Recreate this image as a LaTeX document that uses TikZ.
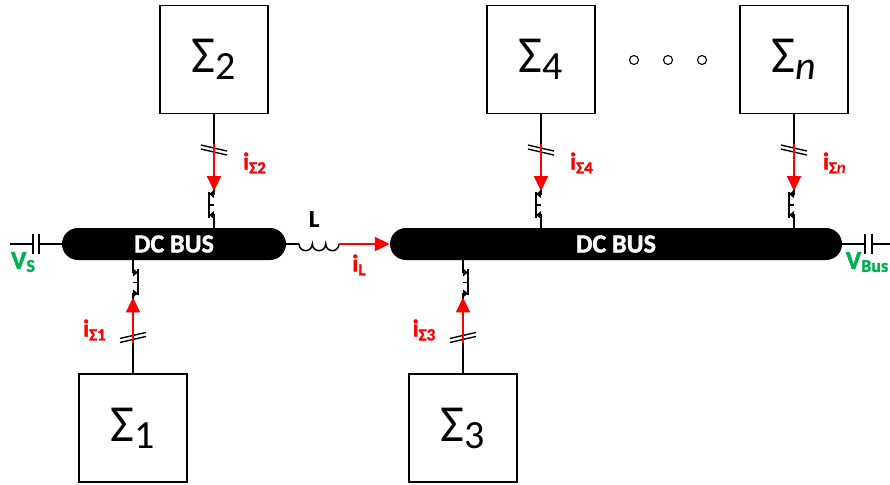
\documentclass[tikz,border=0pt]{standalone}
\usepackage{fontspec}
\setmainfont[BoldFeatures={FakeBold=1.6}]{Carlito}
\usetikzlibrary{arrows.meta,calc}
\definecolor{busgreen}{RGB}{0,176,80}
\newcommand{\fs}[1]{\fontsize{#1}{#1}\selectfont}
\newcommand{\bigsig}[1]{\raisebox{-5pt}{\fs{52}Σ\raisebox{-7pt}{\fs{40}#1}}}
\newcommand{\cur}[2]{{\fs{24}\bfseries #1\raisebox{-4pt}{\fs{17}#2}}}
\tikzset{
  x=1pt,y=-1pt,
  block/.style={draw=black,line width=1.1pt,fill=white,minimum width=108pt,minimum height=108pt,inner sep=0pt},
  bus/.style={fill=black,rounded corners=16pt,minimum height=32pt,inner sep=0pt,text=white,font=\fs{26}\bfseries},
  wire/.style={draw=black,line width=1.5pt},
  redarrow/.style={draw=red,line width=2pt,-{Triangle[length=15pt,width=14pt,fill=red]}},
  plate/.style={draw=black,line width=2pt},
  curlabel/.style={text=red,inner sep=0pt},
  vlabel/.style={text=busgreen,inner sep=0pt},
  dotc/.style={circle,draw=black,line width=1.1pt,minimum size=9pt,inner sep=0pt},
  switchsym/.pic={
    \draw[line width=1.5pt] (0,-14) -- (0,-11) -- (-5,-11);
    \draw[line width=2pt] (-5,-13) -- (-5,13);
    \draw[line width=1.5pt] (-5,0) -- (0,0);
    \draw[line width=1.5pt] (-5,10) -- (0,10) -- (0,14);
    \fill (-5,-11) -- (0,-15) -- (0,-7) -- cycle;
    \fill (-5,10) -- (0,6) -- (0,14) -- cycle;
  },
  ticks/.pic={
    \draw[line width=1.4pt] (-13,-5) -- (13,1);
    \draw[line width=1.4pt] (-13,-1) -- (13,5);
  }
}
\begin{document}
\begin{tikzpicture}
\useasboundingbox (0,0) rectangle (890,484);
% blocks
\node[block] (s2) at (214,59.5) {\bigsig{2}};
\node[block] (s4) at (541,59.5) {\bigsig{4}};
\node[block] (sn) at (794,59.5) {\bigsig{\itshape n}};
\node[block] (s1) at (133,428) {\bigsig{1}};
\node[block] (s3) at (463,428) {\bigsig{3}};
% buses
\node[bus,minimum width=224pt] (busa) at (174,244) {DC BUS};
\node[bus,minimum width=452pt] (busb) at (616,244) {DC BUS};
% named points
\coordinate (vsl) at (10,244);
\coordinate (vsa) at (33,244);
\coordinate (vsb) at (39,244);
\coordinate (vbl) at (890,244);
\coordinate (vba) at (865,244);
\coordinate (vbb) at (872,244);
\coordinate (la) at (299,244);
\coordinate (lb) at (339,244);
% vertical wires
\foreach \b/\g in {s2/busa,s4/busb,sn/busb}{
  \draw[wire] (\b.south) -- ($(\b.south)+(0,78)$);
  \draw[wire] ($(\b.south)+(0,102)$) -- (\b.south |- \g.north);
  \path ($(\b.south)+(0,91)$) pic {switchsym};
  \path ($(\b.south)+(0,36)$) pic {ticks};
  \draw[redarrow] ($(\b.south)+(0,30)$) -- ($(\b.south)+(0,77)$);
}
\foreach \b/\g in {s1/busa,s3/busb}{
  \draw[wire] (\b.north) -- ($(\b.north)+(0,-78)$);
  \draw[wire] ($(\b.north)+(0,-102)$) -- (\b.north |- \g.south);
  \path ($(\b.north)+(0,-91)$) pic[rotate=180] {switchsym};
  \path ($(\b.north)+(0,-36)$) pic[xscale=-1] {ticks};
  \draw[redarrow] ($(\b.north)+(0,-30)$) -- ($(\b.north)+(0,-76)$);
}
% source and bus capacitors
\draw[wire] (vsl) -- (vsa);
\draw[plate] ($(vsa)+(0,-10)$) -- ($(vsa)+(0,10)$);
\draw[plate] ($(vsb)+(0,-10)$) -- ($(vsb)+(0,10)$);
\draw[wire] (vsb) -- (busa.west);
\draw[wire] (busb.east) -- (vba);
\draw[plate] ($(vba)+(0,-10)$) -- ($(vba)+(0,10)$);
\draw[plate] ($(vbb)+(0,-10)$) -- ($(vbb)+(0,10)$);
\draw[wire] (vbb) -- (vbl);
% inductor
\draw[wire] (busa.east) -- (la);
\draw[wire] (la) arc[start angle=180,end angle=0,radius=6.67]
  arc[start angle=180,end angle=0,radius=6.67]
  arc[start angle=180,end angle=0,radius=6.67];
\draw[redarrow] (lb) -- (busb.west);
% labels
\node[inner sep=0pt,font=\fs{24}\bfseries] (ll) at (314,219) {L};
\node[curlabel] (il) at (359,265) {\cur{i}{L}};
\node[curlabel] (i2) at (254.5,163) {\cur{i}{Σ2}};
\node[curlabel] (i4) at (581.5,163) {\cur{i}{Σ4}};
\node[curlabel] (in) at (834.5,163) {\cur{i}{Σ\itshape n}};
\node[curlabel] (i1) at (94.5,330) {\cur{i}{Σ1}};
\node[curlabel] (i3) at (424,330) {\cur{i}{Σ3}};
\node[vlabel] (vs) at (23,262) {{\fs{26}\bfseries V\raisebox{-3pt}{\fs{18}S}}};
\node[vlabel] (vb) at (867,262) {{\fs{26}\bfseries V\raisebox{-3pt}{\fs{18}Bus}}};
% dots
\node[dotc] (d1) at (634,60) {};
\node[dotc] (d2) at (668,60) {};
\node[dotc] (d3) at (702,60) {};
\end{tikzpicture}
\end{document}
